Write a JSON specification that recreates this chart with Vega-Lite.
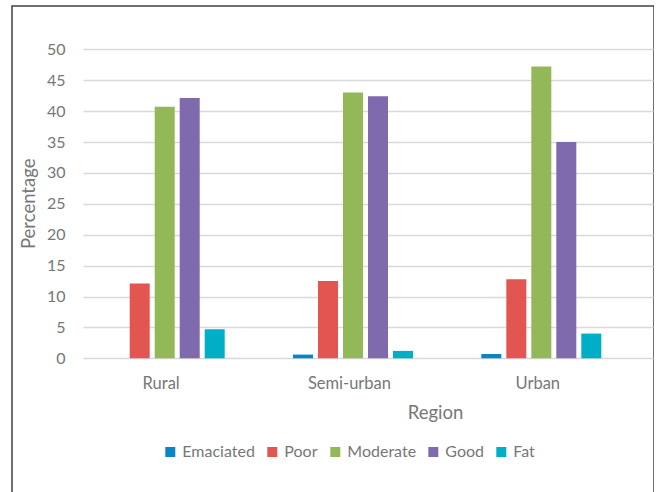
{
  "$schema": "https://vega.github.io/schema/vega-lite/v6.json",
  "width": 642,
  "height": 500,
  "autosize": {"type": "none"},
  "padding": {"left": 12, "top": 6, "right": 0, "bottom": 0},
  "background": "white",
  "config": {
    "font": "Lato",
    "view": {"stroke": "#404040", "strokeWidth": 1.5},
    "axis": {
      "labelFont": "Lato",
      "titleFont": "Lato",
      "labelColor": "#777777",
      "titleColor": "#777777",
      "titleFontWeight": "normal",
      "labelFontSize": 16,
      "titleFontSize": 18.5
    }
  },
  "data": {
    "values": [
      {"region": "Rural", "condition": "Emaciated", "pct": 0},
      {"region": "Rural", "condition": "Poor", "pct": 12.1},
      {"region": "Rural", "condition": "Moderate", "pct": 40.7},
      {"region": "Rural", "condition": "Good", "pct": 42.1},
      {"region": "Rural", "condition": "Fat", "pct": 4.7},
      {"region": "Semi-urban", "condition": "Emaciated", "pct": 0.6},
      {"region": "Semi-urban", "condition": "Poor", "pct": 12.5},
      {"region": "Semi-urban", "condition": "Moderate", "pct": 43.0},
      {"region": "Semi-urban", "condition": "Good", "pct": 42.4},
      {"region": "Semi-urban", "condition": "Fat", "pct": 1.2},
      {"region": "Urban", "condition": "Emaciated", "pct": 0.7},
      {"region": "Urban", "condition": "Poor", "pct": 12.8},
      {"region": "Urban", "condition": "Moderate", "pct": 47.2},
      {"region": "Urban", "condition": "Good", "pct": 35.0},
      {"region": "Urban", "condition": "Fat", "pct": 4.0}
    ]
  },
  "mark": {"type": "bar"},
  "encoding": {
    "x": {
      "field": "region",
      "type": "nominal",
      "sort": ["Rural", "Semi-urban", "Urban"],
      "scale": {"range": [71, 641], "paddingInner": 0, "paddingOuter": 0.0135, "align": 0},
      "axis": {
        "title": "Region",
        "labelAngle": 0,
        "labelFontSize": 16.5,
        "labelFont": "Lato",
        "labelColor": "#777777",
        "domain": false,
        "ticks": false,
        "tickSize": 0,
        "grid": false,
        "offset": -147.7,
        "labelPadding": 30,
        "labelBaseline": "alphabetic",
        "labelOffset": -16,
        "titleX": 423,
        "titleY": 60,
        "titleAlign": "center",
        "titleBaseline": "alphabetic"
      }
    },
    "xOffset": {
      "field": "condition",
      "type": "nominal",
      "sort": ["Emaciated", "Poor", "Moderate", "Good", "Fat"],
      "scale": {"range": [21.7, 141.7], "paddingInner": 0.2, "paddingOuter": 0}
    },
    "y": {
      "field": "pct",
      "type": "quantitative",
      "scale": {"domain": [0, 50], "range": [352.3, 43.3], "nice": false, "zero": true},
      "axis": {
        "title": "Percentage",
        "values": [0, 5, 10, 15, 20, 25, 30, 35, 40, 45, 50],
        "labelFontSize": 16,
        "domain": false,
        "ticks": false,
        "tickSize": 0,
        "grid": true,
        "gridColor": "#D9D9D9",
        "gridWidth": 1.3,
        "offset": -53,
        "labelPadding": 0,
        "titleX": -36.7,
        "titleY": 197.3,
        "titleAngle": -90,
        "titleAlign": "center",
        "titleBaseline": "middle"
      }
    },
    "color": {
      "field": "condition",
      "type": "nominal",
      "scale": {
        "domain": ["Emaciated", "Poor", "Moderate", "Good", "Fat"],
        "range": ["#0A84C6", "#E25551", "#93B857", "#7F6AAD", "#00AFC6"]
      },
      "legend": {
        "title": null,
        "orient": "none",
        "direction": "horizontal",
        "legendX": 150.3,
        "legendY": 438,
        "symbolType": "square",
        "symbolSize": 100,
        "symbolStrokeWidth": 0,
        "symbolOpacity": 1,
        "labelFont": "Lato",
        "labelFontSize": 16,
        "labelColor": "#777777",
        "labelOffset": 4,
        "columnPadding": 9
      }
    }
  }
}
